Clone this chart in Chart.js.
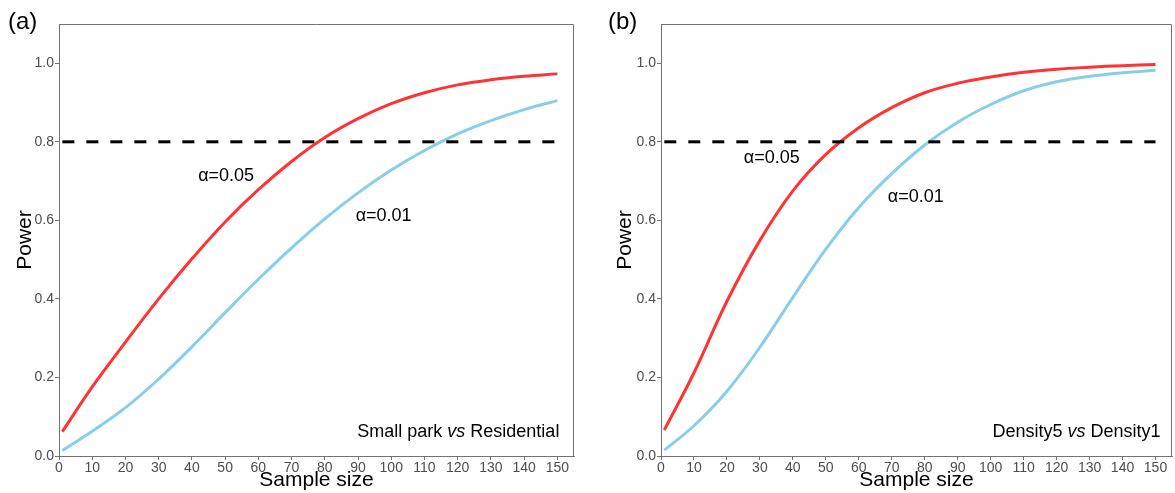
<!DOCTYPE html>
<html>
<head>
<meta charset="utf-8">
<script src="https://cdn.jsdelivr.net/npm/chart.js@4"></script>
<style>
    body { margin: 0; background: #fff; }
    .wrap { position: relative; width: 1175px; height: 493px; }
    .panel { position: absolute; top: 0; height: 493px; }
    #pa { left: 0; width: 587px; }
    #pb { left: 600px; width: 575px; }
</style>
</head>
<body>
<div class="wrap">
    <div class="panel" id="pa"><canvas id="chartA"></canvas></div>
    <div class="panel" id="pb"><canvas id="chartB"></canvas></div>
</div>
<script>
// sample sizes where the curves were read
const sampleSize = [1, 10, 20, 30, 40, 50, 60, 70, 80, 90, 100, 110, 120, 130, 140, 150];

// (a) Small park vs Residential
const powerA005 = [0.062, 0.176, 0.290, 0.400, 0.502, 0.596, 0.678, 0.750, 0.811, 0.859, 0.897, 0.925, 0.945, 0.958, 0.967, 0.973];
const powerA001 = [0.014, 0.063, 0.123, 0.196, 0.278, 0.365, 0.450, 0.530, 0.604, 0.670, 0.728, 0.778, 0.820, 0.854, 0.882, 0.905];

// (b) Density5 vs Density1
const powerB005 = [0.066, 0.212, 0.394, 0.549, 0.675, 0.768, 0.836, 0.887, 0.925, 0.949, 0.965, 0.977, 0.985, 0.990, 0.994, 0.997];
const powerB001 = [0.015, 0.077, 0.165, 0.277, 0.404, 0.527, 0.633, 0.719, 0.792, 0.850, 0.895, 0.930, 0.953, 0.967, 0.976, 0.982];

// 0.8 power threshold
const thresholdX = [1, 150];
const thresholdY = [0.8, 0.8];

const xTicks = [0, 10, 20, 30, 40, 50, 60, 70, 80, 90, 100, 110, 120, 130, 140, 150];
const yTicks = [0, 0.2, 0.4, 0.6, 0.8, 1.0];

const FONT = '"Liberation Sans", Arial, sans-serif';
const AXIS_GREY = '#737373';

const toPoints = (xs, ys) => xs.map((x, i) => ({x: x, y: ys[i]}));

// text drawn inside the plot, in data coordinates
const notesPlugin = {
    id: 'notes',
    afterDatasetsDraw(chart, args, opts) {
        const {ctx, chartArea, scales} = chart;
        ctx.save();
        // top and right panel border
        ctx.strokeStyle = AXIS_GREY;
        ctx.lineWidth = 1;
        ctx.beginPath();
        ctx.moveTo(Math.round(chartArea.left) + 0.5, Math.round(chartArea.top) + 0.5);
        ctx.lineTo(Math.round(chartArea.right) - 0.5, Math.round(chartArea.top) + 0.5);
        ctx.lineTo(Math.round(chartArea.right) - 0.5, Math.round(chartArea.bottom));
        ctx.stroke();

        ctx.fillStyle = '#000';
        ctx.textBaseline = 'middle';
        (opts.items || []).forEach(item => {
            const px = scales.x.getPixelForValue(item.x);
            const py = scales.y.getPixelForValue(item.y);
            const fonts = item.parts.map(p => (p.italic ? 'italic ' : '') + '18px ' + FONT);
            let total = 0;
            item.parts.forEach((p, i) => { ctx.font = fonts[i]; total += ctx.measureText(p.t).width; });
            let cx = item.align === 'right' ? px - total : px - total / 2;
            ctx.textAlign = 'left';
            item.parts.forEach((p, i) => {
                ctx.font = fonts[i];
                ctx.fillText(p.t, cx, py);
                cx += ctx.measureText(p.t).width;
            });
        });

        // panel letter
        ctx.font = '24px ' + FONT;
        ctx.textAlign = 'left';
        ctx.fillText(opts.letter, 8, 22);
        ctx.restore();
    }
};

const makeChart = (id, red, blue, letter, notes, axisWidth, padRight) => {
    const ctx = document.getElementById(id).getContext('2d');
    return new Chart(ctx, {
        type: 'line',
        data: {
            datasets: [
                {
                    label: 'threshold',
                    data: toPoints(thresholdX, thresholdY),
                    borderColor: '#000',
                    borderWidth: 3,
                    borderDash: [12, 12],
                    pointRadius: 0
                },
                {
                    label: 'α=0.01',
                    data: toPoints(sampleSize, blue),
                    borderColor: '#87CEEB',
                    borderWidth: 3,
                    pointRadius: 0,
                    tension: 0.4
                },
                {
                    label: 'α=0.05',
                    data: toPoints(sampleSize, red),
                    borderColor: '#FF3333',
                    borderWidth: 3,
                    pointRadius: 0,
                    tension: 0.4
                }
            ]
        },
        options: {
            responsive: true,
            maintainAspectRatio: false,
            animation: false,
            layout: { padding: { left: 0, right: padRight, top: 24, bottom: 0 } },
            plugins: {
                legend: { display: false },
                tooltip: { enabled: false },
                notes: { letter: letter, items: notes }
            },
            scales: {
                x: {
                    type: 'linear',
                    min: 0,
                    max: 155,
                    afterBuildTicks: s => { s.ticks = xTicks.map(v => ({value: v})); },
                    afterFit: s => { s.height = 37; },
                    grid: { display: true, drawOnChartArea: false, drawTicks: true, tickLength: 4, color: AXIS_GREY },
                    border: { display: true, color: AXIS_GREY },
                    ticks: { padding: 0, color: '#4d4d4d', font: { family: FONT, size: 14 }, maxRotation: 0, autoSkip: false },
                    title: { display: true, text: 'Sample size', color: '#000', font: { family: FONT, size: 21 }, padding: { top: 0, bottom: 0 } }
                },
                y: {
                    min: 0,
                    max: 1.1,
                    afterBuildTicks: s => { s.ticks = yTicks.map(v => ({value: v})); },
                    afterFit: s => { s.width = axisWidth; },
                    grid: { display: true, drawOnChartArea: false, drawTicks: true, tickLength: 4, color: AXIS_GREY },
                    border: { display: true, color: AXIS_GREY },
                    ticks: { padding: 1, color: '#4d4d4d', font: { family: FONT, size: 14 }, callback: v => v.toFixed(1) },
                    title: { display: true, text: 'Power', color: '#000', font: { family: FONT, size: 21 }, padding: { top: 13, bottom: 0 } }
                }
            }
        },
        plugins: [notesPlugin]
    });
};

makeChart('chartA', powerA005, powerA001, '(a)', [
    { x: 50.3, y: 0.713, parts: [{t: 'α=0.05'}] },
    { x: 97.7, y: 0.61, parts: [{t: 'α=0.01'}] },
    { x: 150.6, y: 0.06, align: 'right', parts: [{t: 'Small park '}, {t: 'vs', italic: true}, {t: ' Residential'}] }
], 59, 13);

makeChart('chartB', powerB005, powerB001, '(b)', [
    { x: 33.6, y: 0.758, parts: [{t: 'α=0.05'}] },
    { x: 77.3, y: 0.659, parts: [{t: 'α=0.01'}] },
    { x: 151.5, y: 0.06, align: 'right', parts: [{t: 'Density5 '}, {t: 'vs', italic: true}, {t: ' Density1'}] }
], 61, 3);
</script>
</body>
</html>
